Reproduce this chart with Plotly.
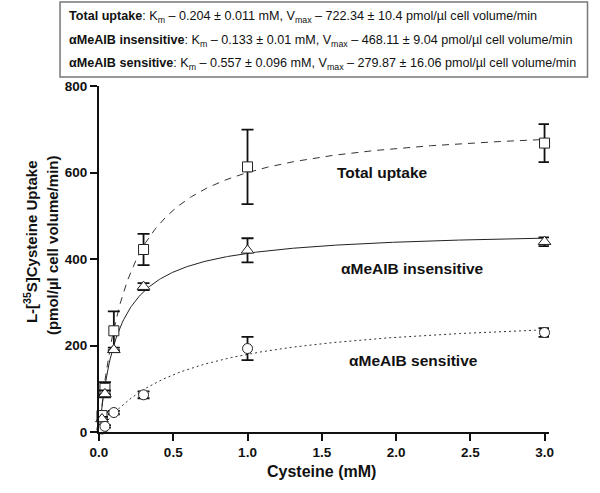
import numpy as np
import plotly.graph_objects as go

# ---- data ----
conc = [0.02, 0.04, 0.1, 0.3, 1.0, 3.0]

total_y = [38, 101, 234, 422, 613, 668]
total_err = [8, 14, 45, 36, 86, 44]

insens_y = [30, 88, 190, 336, 420, 440]
insens_err = [5, 8, 5, 8, 28, 10]

sens_y = [7, 13, 45, 86, 193, 230]
sens_err = [3, 3, 4, 8, 27, 10]

# fitted Michaelis-Menten parameters (from the box)
km = {"total": 0.204, "insens": 0.133, "sens": 0.557}
vmax = {"total": 722.34, "insens": 468.11, "sens": 279.87}

x_ticks = [0.0, 0.5, 1.0, 1.5, 2.0, 2.5, 3.0]
x_ticklabels = ["0.0", "0.5", "1.0", "1.5", "2.0", "2.5", "3.0"]
y_ticks = [0, 200, 400, 600, 800]

xf = np.linspace(0, 3, 400)

def mm(key):
    return vmax[key] * xf / (km[key] + xf)

fig = go.Figure()

# fitted curves
fig.add_trace(go.Scatter(x=xf, y=mm("total"), mode="lines",
                         line=dict(color="#333", width=1, dash="7px,6px"),
                         hoverinfo="skip", showlegend=False))
fig.add_trace(go.Scatter(x=xf, y=mm("insens"), mode="lines",
                         line=dict(color="#222", width=1),
                         hoverinfo="skip", showlegend=False))
fig.add_trace(go.Scatter(x=xf, y=mm("sens"), mode="lines",
                         line=dict(color="#333", width=1, dash="2px,3px"),
                         hoverinfo="skip", showlegend=False))

def pts(y, err, symbol, size):
    return go.Scatter(x=conc, y=y, mode="markers",
                      marker=dict(symbol=symbol, size=size, color="white",
                                  line=dict(color="#222", width=1)),
                      error_y=dict(type="data", array=err, visible=True,
                                   color="#111", thickness=1.8, width=6),
                      cliponaxis=False, showlegend=False)

fig.add_trace(pts(total_y, total_err, "square", 10))
fig.add_trace(pts(insens_y, insens_err, "triangle-up", 11))
fig.add_trace(pts(sens_y, sens_err, "circle", 10))

# series labels
lab_font = dict(family="Liberation Sans, Arial, sans-serif", size=15.5, color="#111")
fig.add_annotation(x=1.91, y=601, text="<b>Total uptake</b>", showarrow=False, font=lab_font,
                   xanchor="center", yanchor="middle")
fig.add_annotation(x=2.11, y=379, text="<b>αMeAIB insensitive</b>", showarrow=False, font=lab_font,
                   xanchor="center", yanchor="middle")
fig.add_annotation(x=2.12, y=165, text="<b>αMeAIB sensitive</b>", showarrow=False, font=lab_font,
                   xanchor="center", yanchor="middle")

# plot-area geometry in pixels (x axis extends a hair past 3.0 so end caps are not clipped)
px_per_x = 446.0 / 3.0
x_max = 3.03
pw = px_per_x * x_max
ph = 346.0

def xp(px):
    return (px - 99) / pw

def yp(py):
    return (432 - py) / ph

# parameter box
box_font = dict(family="Liberation Sans, Arial, sans-serif", size=12.6, color="#111")
lines = [
    "<b>Total uptake</b>: K<sub>m</sub> – 0.204 ± 0.011 mM, V<sub>max</sub> – 722.34 ± 10.4 pmol/µl cell volume/min",
    "<b>αMeAIB insensitive</b>: K<sub>m</sub> – 0.133 ± 0.01 mM, V<sub>max</sub> – 468.11 ± 9.04 pmol/µl cell volume/min",
    "<b>αMeAIB sensitive</b>: K<sub>m</sub> – 0.557 ± 0.096 mM, V<sub>max</sub> – 279.87 ± 16.06 pmol/µl cell volume/min",
]
for py, t in zip([17, 41, 64], lines):
    fig.add_annotation(xref="paper", yref="paper", x=xp(67), y=yp(py),
                       xanchor="left", yanchor="middle", text=t, showarrow=False, font=box_font)
fig.add_shape(type="rect", xref="paper", yref="paper",
              x0=xp(60), x1=xp(588), y0=yp(77), y1=yp(2),
              line=dict(color="#777", width=1.5), fillcolor="rgba(0,0,0,0)")

# axis titles
title_font = dict(family="Liberation Sans, Arial, sans-serif", size=15, color="#111")
fig.add_annotation(xref="paper", yref="paper", x=xp(30), y=yp(242),
                   xanchor="center", yanchor="middle",
                   text="<b>L-[<sup>35</sup>S]Cysteine Uptake</b>", textangle=-90,
                   showarrow=False, font=title_font)
fig.add_annotation(xref="paper", yref="paper", x=xp(52), y=yp(245),
                   xanchor="center", yanchor="middle",
                   text="<b>(pmol/µl cell volume/min)</b>", textangle=-90,
                   showarrow=False, font=title_font)
fig.add_annotation(xref="paper", yref="paper", x=xp(322), y=yp(471),
                   xanchor="center", yanchor="middle",
                   text="<b>Cysteine (mM)</b>", showarrow=False,
                   font=dict(family="Liberation Sans, Arial, sans-serif", size=16, color="#111"))

tick_font = dict(family="Liberation Sans, Arial, sans-serif", size=13.5, color="#111")
r_margin = 600 - 99 - pw
fig.update_layout(
    width=600, height=493,
    margin=dict(l=99, r=r_margin, t=86, b=61),
    plot_bgcolor="white", paper_bgcolor="white",
    font=dict(family="Liberation Sans, Arial, sans-serif"),
    xaxis=dict(range=[0, x_max], tickvals=x_ticks, ticktext=["<b>%s</b>" % t for t in x_ticklabels],
               showgrid=False, zeroline=False, showline=True, linecolor="#111", linewidth=2,
               ticks="outside", ticklen=7, tickwidth=2, tickcolor="#111", tickfont=tick_font),
    yaxis=dict(range=[0, 800], tickvals=y_ticks, ticktext=["<b>%d</b>" % v for v in y_ticks],
               showgrid=False, zeroline=False, showline=True, linecolor="#111", linewidth=2,
               ticks="outside", ticklen=7, tickwidth=2, tickcolor="#111", tickfont=tick_font),
)

fig.write_html("out.html", config={"displayModeBar": False},
               post_script="document.body.style.margin='0';")
